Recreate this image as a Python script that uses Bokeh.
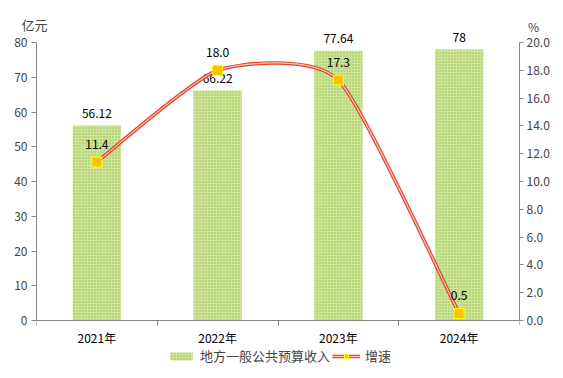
from bokeh.plotting import figure
from bokeh.models import (Range1d, LinearAxis, FixedTicker, Label, Legend, LegendItem,
                          ColumnDataSource, CustomJSTickFormatter)
from bokeh.embed import file_html
from bokeh.resources import INLINE
from bokeh.core.properties import value

years = ["2021年", "2022年", "2023年", "2024年"]
revenue = [56.12, 66.22, 77.64, 78]
revenue_labels = ["56.12", "66.22", "77.64", "78"]
growth = [11.4, 18.0, 17.3, 0.5]
growth_labels = ["11.4", "18.0", "17.3", "0.5"]
left_ticks = [0, 10, 20, 30, 40, 50, 60, 70, 80]
right_ticks = [0, 2, 4, 6, 8, 10, 12, 14, 16, 18, 20]

FONT = "Noto Sans CJK SC"
xpos = [i + 0.5 for i in range(len(years))]

# smoothed-line control points (Catmull-Rom style, reduced tension) from the data
K = 0.1
n = len(xpos)
seg = dict(x0=[], y0=[], x1=[], y1=[], cx0=[], cy0=[], cx1=[], cy1=[])
for i in range(n - 1):
    pm = max(i - 1, 0)
    pp = min(i + 2, n - 1)
    seg["x0"].append(xpos[i]); seg["y0"].append(growth[i])
    seg["x1"].append(xpos[i + 1]); seg["y1"].append(growth[i + 1])
    seg["cx0"].append(xpos[i] + (xpos[i + 1] - xpos[pm]) * K)
    seg["cy0"].append(growth[i] + (growth[i + 1] - growth[pm]) * K)
    seg["cx1"].append(xpos[i + 1] - (xpos[pp] - xpos[i]) * K)
    seg["cy1"].append(growth[i + 1] - (growth[pp] - growth[i]) * K)
seg_src = ColumnDataSource(seg)

# frame extends above/below the axis extents so that texts fit inside it
Y_LO, Y_HI = -13.81, 86.33
p = figure(width=563, height=378, output_backend="svg", toolbar_location=None,
           x_range=Range1d(0, len(years)), y_range=Range1d(Y_LO, Y_HI),
           min_border_left=36, min_border_right=39, min_border_top=20, min_border_bottom=10)
p.outline_line_color = None
p.xgrid.visible = False
p.ygrid.visible = False
p.extra_y_ranges = {"pct": Range1d(Y_LO / 4, Y_HI / 4)}

src = ColumnDataSource(dict(x=xpos, rev=revenue, revl=revenue_labels, g=growth, gl=growth_labels,
                            yr=years, zero=[0] * len(years)))

bars = p.vbar(x="x", top="rev", width=0.4, source=src, fill_color="#cfe39a",
              line_color=None, hatch_pattern="dot", hatch_color="#8fc644",
              hatch_scale=3, hatch_weight=1.0)

p.text(x="x", y="rev", text="revl", source=src, y_offset=-12, text_align="center",
       text_baseline="middle", text_font=value(FONT), text_font_size="12px",
       text_color="#000000")

outer = p.bezier(x0="x0", y0="y0", x1="x1", y1="y1", cx0="cx0", cy0="cy0", cx1="cx1",
                 cy1="cy1", source=seg_src, y_range_name="pct", line_color="#e0452c",
                 line_width=3.6)
inner = p.bezier(x0="x0", y0="y0", x1="x1", y1="y1", cx0="cx0", cy0="cy0", cx1="cx1",
                 cy1="cy1", source=seg_src, y_range_name="pct", line_color="#f9c7b8",
                 line_width=1.2)
marks = p.scatter(x="x", y="g", source=src, y_range_name="pct", marker="square", size=10,
                  fill_color="#ffc000", line_color="#ffff00", line_width=1)
p.text(x="x", y="g", text="gl", source=src, y_range_name="pct", y_offset=-18,
       text_align="center", text_baseline="middle", text_font=value(FONT),
       text_font_size="12px", text_color="#000000")

# category labels under the x axis
p.text(x="x", y="zero", text="yr", source=src, y_offset=17, text_align="center",
       text_baseline="middle", text_font=value(FONT), text_font_size="12px",
       text_color="#000000")

# x axis (line + boundary ticks) fixed at y = 0
xa = p.xaxis[0]
xa.fixed_location = 0
xa.bounds = (0, len(years))
xa.ticker = FixedTicker(ticks=xpos, minor_ticks=list(range(len(years) + 1)))
xa.major_label_overrides = {x: "" for x in xpos}
xa.major_label_text_font_size = "0px"
xa.major_label_standoff = 0
xa.major_tick_out = 0
xa.major_tick_in = 0
xa.minor_tick_out = 5
xa.minor_tick_in = 0
xa.axis_line_color = "#868686"
xa.minor_tick_line_color = "#868686"

ya = p.yaxis[0]
ya.bounds = (0, 80)
ya.ticker = FixedTicker(ticks=left_ticks)
ya.axis_line_color = "#868686"
ya.major_tick_line_color = "#868686"
ya.major_tick_out = 5
ya.major_tick_in = 0
ya.minor_tick_line_color = None
ya.major_label_text_font = FONT
ya.major_label_text_font_size = "12px"
ya.major_label_standoff = 4

ra = LinearAxis(y_range_name="pct", ticker=FixedTicker(ticks=right_ticks), bounds=(0, 20))
ra.formatter = CustomJSTickFormatter(code="return tick.toFixed(1);")
ra.axis_line_color = "#868686"
ra.major_tick_line_color = "#868686"
ra.major_tick_out = 4
ra.major_tick_in = 0
ra.minor_tick_line_color = None
ra.major_label_text_font = FONT
ra.major_label_text_font_size = "12px"
ra.major_label_standoff = 3
p.add_layout(ra, "right")

p.add_layout(Label(x=-2, y=-4, x_units="screen", y_units="screen", text="亿元",
                   text_font=FONT, text_font_size="13px", text_align="center",
                   text_baseline="middle"), "above")
p.add_layout(Label(x=-19, y=342, x_units="screen", y_units="screen", text="%",
                   text_font=FONT, text_font_size="12px", text_align="center",
                   text_baseline="middle"), "right")

legend = Legend(items=[LegendItem(label="地方一般公共预算收入", renderers=[bars]),
                       LegendItem(label="增速", renderers=[outer, inner, marks])],
                orientation="horizontal", location=(131, 3),
                label_text_font=FONT, label_text_font_size="13px",
                glyph_width=28, glyph_height=10, spacing=2, padding=0, margin=0,
                label_standoff=5, border_line_color=None, background_fill_alpha=0)
p.add_layout(legend)

open("out.html", "w").write(file_html(p, INLINE))
